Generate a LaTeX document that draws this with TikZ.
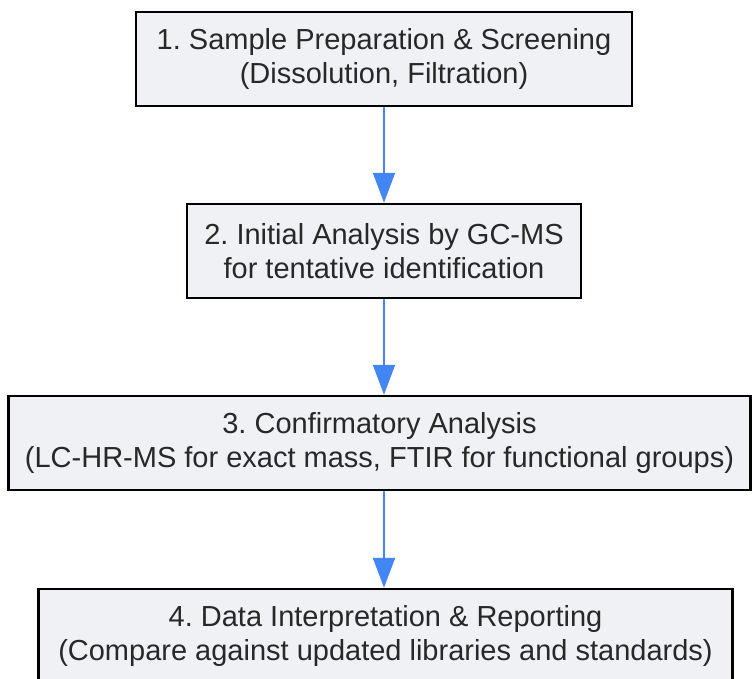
\documentclass[tikz,border=0pt]{standalone}
\usepackage{fontspec}
\setmainfont{Liberation Sans}
\usepackage{tikz}
\usetikzlibrary{arrows.meta}
\definecolor{boxfill}{RGB}{240,241,244}
\definecolor{flowblue}{RGB}{66,133,244}
\definecolor{boxtext}{RGB}{40,40,40}
\frenchspacing

\begin{document}
\begin{tikzpicture}[x=1pt,y=-1pt,
    stepbox/.style={draw=black,line width=2.5pt,fill=boxfill,text=boxtext,align=center,
        inner sep=0pt,minimum height=94pt,font=\fontsize{29}{34}\selectfont},
    flow/.style={draw=flowblue,line width=2pt,-{Triangle[length=30pt,width=22pt]}}]
    \useasboundingbox (0,0) rectangle (753,678);

    \node[stepbox,minimum width=496pt] (a) at (384,59) {1. Sample Preparation \& Screening\\(Dissolution, Filtration)};
    \node[stepbox,minimum width=394pt] (b) at (384,251) {2. Initial Analysis by GC-MS\\for tentative identification};
    \node[stepbox,minimum width=742pt] (c) at (379.5,443) {3. Confirmatory Analysis\\(LC-HR-MS for exact mass, FTIR for functional groups)};
    \node[stepbox,minimum width=694pt] (d) at (385.5,636) {4. Data Interpretation \& Reporting\\(Compare against updated libraries and standards)};

    \draw[flow] (a) -- (b);
    \draw[flow] (b.south) -- (b.south |- c.north);
    \draw[flow] (b.south |- c.south) -- (b.south |- d.north);
\end{tikzpicture}
\end{document}
